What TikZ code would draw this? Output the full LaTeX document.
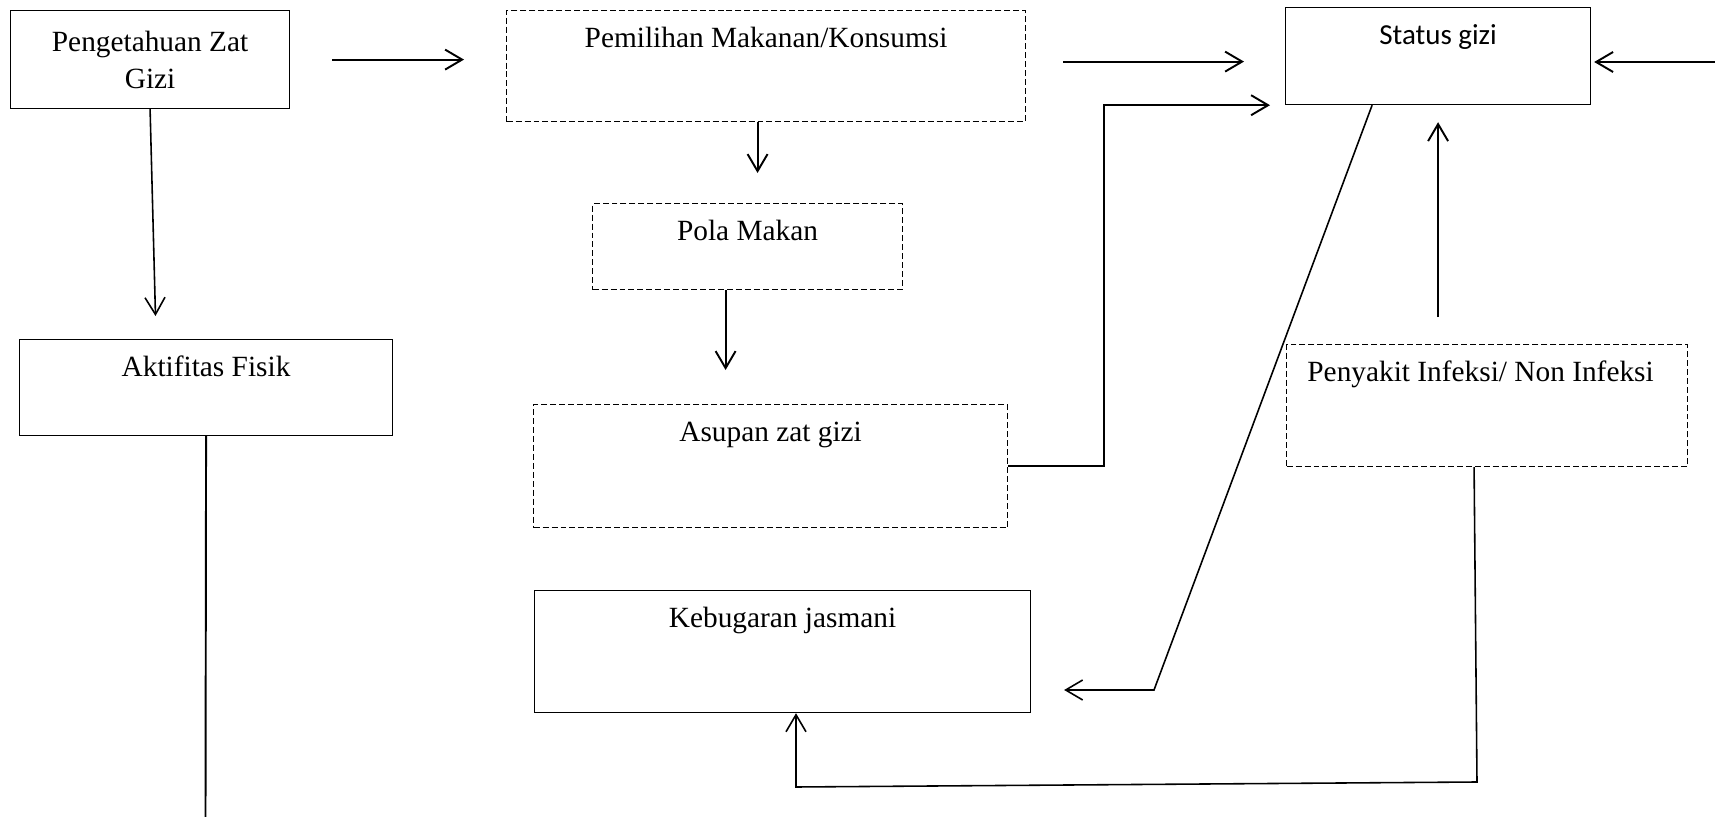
\documentclass[tikz,border=0pt]{standalone}
\usepackage{fontspec}
\setmainfont{Liberation Serif}
\newfontfamily\calfont{Carlito}
\usetikzlibrary{arrows.meta,positioning}

\begin{document}
\begin{tikzpicture}[
    x=0.02cm, y=-0.02cm,
    font=\fontsize{16.7}{21}\selectfont,
    box/.style={draw, line width=0.7pt, inner sep=0pt, anchor=north west, align=center},
    dbox/.style={box, dash pattern=on 3.4pt off 1.7pt},
    head/.style={label={[anchor=base, yshift=-0.76cm]north:#1}},
    shead/.style={label={[anchor=base, yshift=-0.76cm, font=\calfont\fontsize{16.5}{20}\selectfont]north:#1}},
    arrow/.style={-{Straight Barb[length=3.4mm, width=4mm]}, line width=1.1pt},
    link/.style={line width=0.9pt}
]
\useasboundingbox (0,0) rectangle (1715,817);

% boxes
\node[box, minimum width=5.58cm, minimum height=1.96cm] (peng) at (10,10) {Pengetahuan Zat\\Gizi};
\node[dbox, minimum width=10.38cm, minimum height=2.22cm, head={Pemilihan Makanan/Konsumsi}] (pemil) at (506,10) {};
\node[box, minimum width=6.1cm, minimum height=1.94cm, shead={Status gizi}] (status) at (1285,7) {};
\node[dbox, minimum width=6.2cm, minimum height=1.72cm, head={Pola Makan}] (pola) at (592,203) {};
\node[dbox, minimum width=9.48cm, minimum height=2.46cm, head={Asupan zat gizi}] (asupan) at (533,404) {};
\node[box, minimum width=9.92cm, minimum height=2.44cm, head={Kebugaran jasmani}] (kebug) at (534,590) {};
\node[box, minimum width=7.46cm, minimum height=1.92cm, head={Aktifitas Fisik}] (aktif) at (19,339) {};
\node[dbox, minimum width=8.02cm, minimum height=2.44cm,
      label={[anchor=base, yshift=-0.76cm, xshift=-0.13cm]north:Penyakit Infeksi/ Non Infeksi}] (peny) at (1286,344) {};

% free ends and bends
\coordinate (rin) at (1715,62);
\coordinate (bend1) at (1154,690);
\coordinate (bend2) at (1477,782);
\coordinate (bend3) at (796,787);
\coordinate (aout) at (205.5,817);

% connectors
\draw[arrow, shorten <=0.84cm, shorten >=0.84cm] (peng.east) -- (peng.east -| pemil.west);
\draw[arrow, shorten <=0.74cm, shorten >=0.82cm] ([yshift=0.09cm]pemil.east) -- ([yshift=0.09cm]pemil.east -| status.west);
\draw[arrow, shorten >=0.06cm] (rin) -- (rin -| status.east);
\draw[arrow, shorten >=0.6cm] ([xshift=-0.17cm]pemil.south) -- ([xshift=-0.17cm]pemil.south |- pola.north);
\draw[arrow, shorten >=0.68cm] ([xshift=-0.44cm]pola.south) -- ([xshift=-0.44cm]pola.south |- asupan.north);
\draw[arrow, shorten >=0.3cm] (asupan.east) -- ++(1.92cm,0) |- (status.south west);
\draw[arrow, link, shorten >=0.66cm] ([xshift=-1.32cm]status.south) -- (bend1) -- (bend1 -| kebug.east);
\draw[arrow, shorten <=0.54cm, shorten >=0.34cm] (status.south |- peny.north) -- (status.south);
\draw[arrow, link] ([xshift=-0.26cm]peny.south) -- (bend2) -- (bend3) -- (bend3 |- kebug.south);
\draw[arrow, link, shorten >=0.46cm] (peng.south) -- ([xshift=-1cm]aktif.north);
\draw[line width=1.1pt] (aktif.south) -- (aout);
\end{tikzpicture}
\end{document}
